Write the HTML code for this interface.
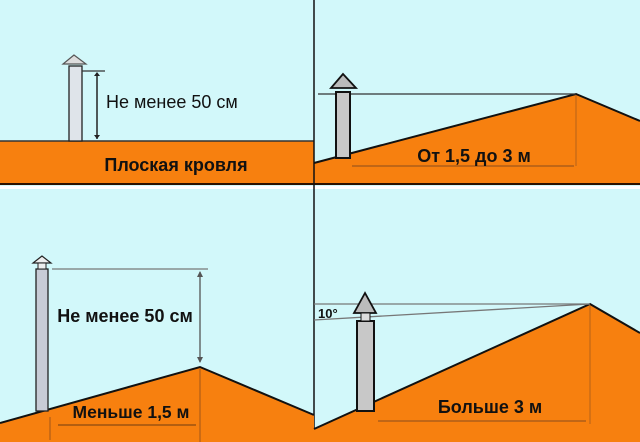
<!DOCTYPE html>
<html><head><meta charset="utf-8"><style>
html,body{margin:0;padding:0;background:#d2f8fa;}
svg{display:block}
text{font-family:"Liberation Sans",sans-serif;fill:#111;}
</style></head><body>
<svg width="640" height="442" viewBox="0 0 640 442" xmlns="http://www.w3.org/2000/svg">
<rect width="640" height="442" fill="#d2f8fa"/>
<!-- Top-left -->
<rect x="0" y="141" width="314" height="42" fill="#f7800f"/>
<line x1="0" y1="141" x2="314" y2="141" stroke="#333" stroke-width="1.5"/>
<line x1="0" y1="184" x2="314" y2="184" stroke="#2a1200" stroke-width="2"/>
<rect x="0" y="186" width="314" height="3" fill="#fff"/>
<rect x="69" y="66" width="13" height="75" fill="#dfe4ea" stroke="#222" stroke-width="1.3"/>
<polygon points="74,55 63,64 86,64" fill="#ddd" stroke="#555" stroke-width="1.2"/>
<line x1="82" y1="71" x2="105" y2="71" stroke="#333" stroke-width="1.2"/>
<line x1="97" y1="73" x2="97" y2="139" stroke="#222" stroke-width="1.5"/>
<polygon points="94,76 100,76 97,72" fill="#222"/>
<polygon points="94,135 100,135 97,139" fill="#222"/>
<text x="106" y="108" font-size="18">Не менее 50 см</text>
<text x="176" y="171" font-size="18" font-weight="bold" text-anchor="middle">Плоская кровля</text>
<!-- Top-right -->
<polygon points="314,163 576,94 640,121 640,184 314,184" fill="#f7800f"/>
<polyline points="314,163 576,94 640,121" fill="none" stroke="#111" stroke-width="2"/>
<line x1="314" y1="184" x2="640" y2="184" stroke="#2a1200" stroke-width="2"/>
<rect x="314" y="186" width="326" height="3" fill="#fff"/>
<line x1="318" y1="94" x2="576" y2="94" stroke="#333" stroke-width="1.2"/>
<rect x="336" y="92" width="14" height="66" fill="#c8c8c8" stroke="#111" stroke-width="2"/>
<polygon points="343,74 331,88 356,88" fill="#bbb" stroke="#111" stroke-width="1.8"/>
<line x1="576" y1="95" x2="576" y2="166" stroke="#b5621a" stroke-width="1"/>
<line x1="352" y1="166" x2="574" y2="166" stroke="#a0561a" stroke-width="1.2"/>
<text x="474" y="162" font-size="18" font-weight="bold" text-anchor="middle">От 1,5 до 3 м</text>
<!-- Divider -->
<line x1="314" y1="0" x2="314" y2="442" stroke="#111" stroke-width="1.5"/>
<!-- Bottom-left -->
<polygon points="0,423 200,367 314,415 314,442 0,442" fill="#f7800f"/>
<polyline points="0,423 200,367 314,415" fill="none" stroke="#111" stroke-width="2"/>
<rect x="36" y="269" width="12" height="142" fill="#c8ccd6" stroke="#222" stroke-width="1.3"/>
<polygon points="42,256 33,263 51,263" fill="#eee" stroke="#222" stroke-width="1.2"/>
<rect x="38" y="263" width="8" height="6" fill="#eee" stroke="#222" stroke-width="1"/>
<line x1="52" y1="269" x2="208" y2="269" stroke="#777" stroke-width="1.2"/>
<line x1="200" y1="272" x2="200" y2="362" stroke="#555" stroke-width="1.3"/>
<polygon points="197,277 203,277 200,271" fill="#555"/>
<polygon points="197,357 203,357 200,363" fill="#555"/>
<line x1="200" y1="369" x2="200" y2="442" stroke="#a0561a" stroke-width="1"/>
<line x1="50" y1="417" x2="50" y2="440" stroke="#a0561a" stroke-width="1"/>
<text x="125" y="322" font-size="18" font-weight="bold" text-anchor="middle">Не менее 50 см</text>
<text x="131" y="418" font-size="17.5" font-weight="bold" text-anchor="middle">Меньше 1,5 м</text>
<line x1="58" y1="425" x2="196" y2="425" stroke="#8a4a10" stroke-width="1.3"/>
<!-- Bottom-right -->
<polygon points="314,429 590,304 640,333 640,442 314,442" fill="#f7800f"/>
<polyline points="314,429 590,304 640,333" fill="none" stroke="#111" stroke-width="2"/>
<line x1="314" y1="304" x2="590" y2="304" stroke="#777" stroke-width="1.3"/>
<line x1="314" y1="320" x2="590" y2="304" stroke="#777" stroke-width="1.3"/>
<rect x="357" y="321" width="17" height="90" fill="#c8c8c8" stroke="#111" stroke-width="2"/>
<polygon points="365,293 354,313 376,313" fill="#bbb" stroke="#111" stroke-width="1.8"/>
<rect x="361" y="313" width="9" height="8" fill="#ddd" stroke="#111" stroke-width="1"/>
<text x="318" y="318" font-size="13" font-weight="bold">10°</text>
<line x1="590" y1="306" x2="590" y2="424" stroke="#b5621a" stroke-width="1"/>
<text x="490" y="413" font-size="18" font-weight="bold" text-anchor="middle">Больше 3 м</text>
<line x1="378" y1="421" x2="586" y2="421" stroke="#a0561a" stroke-width="1.2"/>
</svg>
</body></html>
